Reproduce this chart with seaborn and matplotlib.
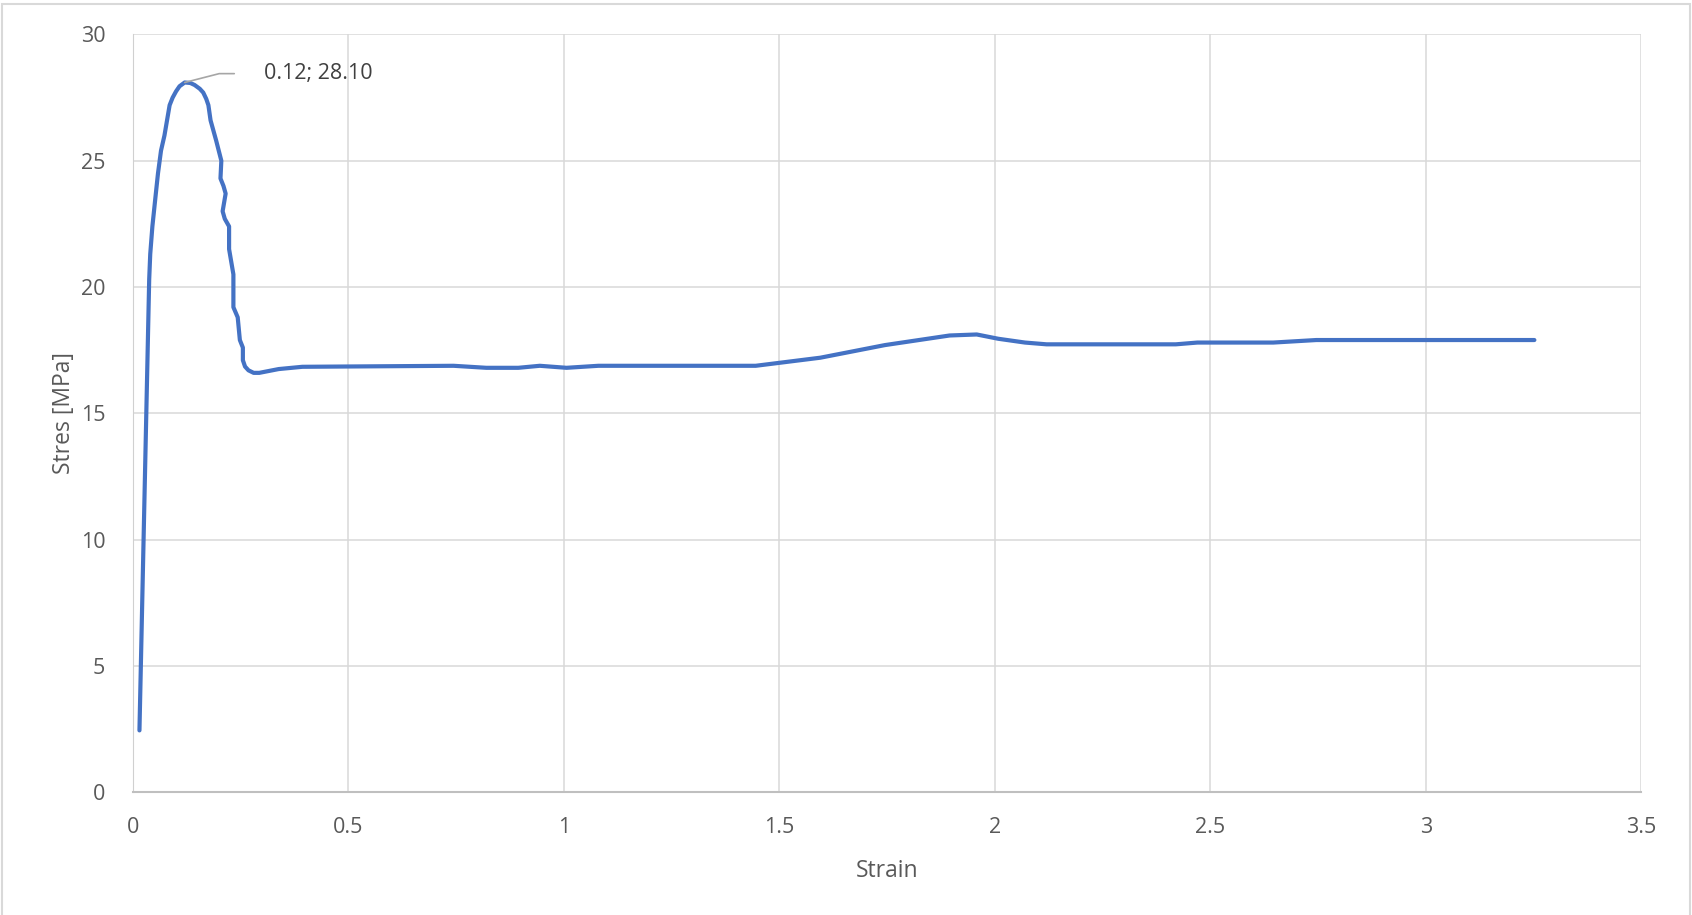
import matplotlib
matplotlib.use("Agg")
import matplotlib.pyplot as plt
import seaborn as sns
import pandas as pd

strain = [0.015, 0.0376, 0.040, 0.045, 0.053, 0.058, 0.065, 0.073, 0.085, 0.092, 0.100, 0.108,
          0.12, 0.133, 0.143, 0.155, 0.163, 0.170, 0.175, 0.180, 0.193, 0.205, 0.203, 0.210,
          0.215, 0.208, 0.213, 0.223, 0.223, 0.233, 0.233, 0.243, 0.248, 0.255, 0.255,
          0.260, 0.268, 0.28, 0.293, 0.338, 0.393, 0.744,
          0.82, 0.894, 0.944, 1.006, 1.08, 1.445, 1.595, 1.745, 1.895, 1.958, 2.008,
          2.07, 2.12, 2.42, 2.47, 2.646, 2.746, 3.252]
stress = [2.44, 20.3, 21.3, 22.4, 23.7, 24.5, 25.4, 26.0, 27.2, 27.5, 27.75, 27.95,
          28.1, 28.08, 28.0, 27.85, 27.7, 27.45, 27.2, 26.6, 25.8, 25.0, 24.3, 24.0,
          23.7, 23.0, 22.7, 22.4, 21.5, 20.5, 19.2, 18.8, 17.9, 17.6, 17.1,
          16.85, 16.7, 16.6, 16.6, 16.75, 16.84, 16.88,
          16.8, 16.8, 16.88, 16.8, 16.88, 16.88, 17.2, 17.7, 18.08, 18.12, 17.95,
          17.8, 17.73, 17.73, 17.8, 17.8, 17.9, 17.9]
peak_label = "0.12; 28.10"

df = pd.DataFrame({"strain": strain, "stress": stress})

sns.set_style("white")
plt.rcParams['font.family'] = ['Open Sans', 'DejaVu Sans']
grey = "#595959"

fig = plt.figure(figsize=(16.92, 9.15), dpi=100)
ax = fig.add_axes([0.0786, 0.1344, 0.8914, 0.8279])

sns.lineplot(data=df, x="strain", y="stress", sort=False, estimator=None,
             color="#4472C4", linewidth=3.0, ax=ax)
for ln in ax.lines:
    ln.set_solid_joinstyle("round")
    ln.set_solid_capstyle("round")

ax.set_xlim(0, 3.5)
ax.set_ylim(0, 30)
ax.set_xticks([0, 0.5, 1, 1.5, 2, 2.5, 3, 3.5])
ax.set_xticklabels(["0", "0.5", "1", "1.5", "2", "2.5", "3", "3.5"])
ax.set_yticks([0, 5, 10, 15, 20, 25, 30])
ax.grid(True, color="#D9D9D9", linewidth=1.1)
ax.set_axisbelow(True)
for s in ["top", "right"]:
    ax.spines[s].set_visible(False)
ax.spines["left"].set_color("#D0D0D0")
ax.spines["bottom"].set_color("#BFBFBF")
ax.spines["bottom"].set_linewidth(1.5)
ax.tick_params(axis="both", length=0, labelsize=15.5, colors=grey)
ax.tick_params(axis="x", pad=18)
ax.tick_params(axis="y", pad=20)

ax.set_xlabel("Strain", fontsize=16.5, color=grey, labelpad=15)
ax.set_ylabel("Stres [MPa]", fontsize=16.5, color=grey, labelpad=3)

# data label with leader line
ax.plot([0.12, 0.2, 0.235], [28.1, 28.45, 28.45], color="#A6A6A6", linewidth=1.2)
ax.text(0.305, 28.45, peak_label, fontsize=15.5, color="#404040", va="center")

# screenshot frame
fig.add_artist(plt.Rectangle((0.001, -0.01), 0.998, 1.006, fill=False,
                             edgecolor="#D9D9D9", linewidth=1.5,
                             transform=fig.transFigure))

fig.savefig("out.png", dpi=100, facecolor="white")
